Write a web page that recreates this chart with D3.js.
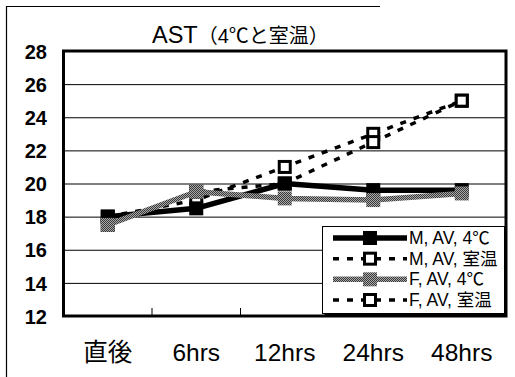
<!DOCTYPE html>
<html>
<head>
<meta charset="utf-8">
<script src="https://cdn.jsdelivr.net/npm/d3@7"></script>
<style>
  html, body { margin: 0; padding: 0; background: #fff; }
  svg { display: block; }
  text { font-family: "Liberation Sans", Arial, "Noto Sans CJK JP", sans-serif; fill: #000; }
</style>
</head>
<body>
<svg id="chart" width="515" height="377"></svg>
<script>
// Time points after collection
const categories = ["直後", "6hrs", "12hrs", "24hrs", "48hrs"];

// AST averages, male / female, stored at 4℃ or at room temperature
const mAv4C   = [18, 18.5, 20, 19.6, 19.6];
const mAvRoom = [18, 19, 21, 23, 25];
const fAv4C   = [17.5, 19.5, 19.1, 19, 19.4];
const fAvRoom = [17.5, 19.5, 20, 22.5, 25];

const seriesNames = ["M, AV, 4℃", "M, AV, 室温", "F, AV, 4℃", "F, AV, 室温"];
const yTicks = [12, 14, 16, 18, 20, 22, 24, 26, 28];
const titleMain = "AST";
const titleSub = "（4℃と室温）";

const svg = d3.select("#chart");

// halftone-like grey used for the female 4℃ series
const defs = svg.append("defs");
const pat = defs.append("pattern")
  .attr("id", "halftone").attr("patternUnits", "userSpaceOnUse")
  .attr("width", 2).attr("height", 2);
pat.append("rect").attr("width", 2).attr("height", 2).attr("fill", "#a8a8a8");
pat.append("rect").attr("width", 1).attr("height", 1).attr("fill", "#3a3a3a");
pat.append("rect").attr("x", 1).attr("y", 1).attr("width", 1).attr("height", 1).attr("fill", "#3a3a3a");

const plot = { left: 63.5, right: 506, top: 51, bottom: 316 };

const x = d3.scaleBand().domain(categories).range([plot.left, plot.right]).padding(0);
const cx = d => x(d) + x.bandwidth() / 2;
const y = d3.scaleLinear().domain([12, 28]).range([plot.bottom, plot.top]);

// outer frame (left and top edges)
svg.append("line").attr("x1", 6.5).attr("x2", 6.5).attr("y1", 6).attr("y2", 377)
  .attr("stroke", "#000").attr("stroke-width", 1.2);
svg.append("line").attr("x1", 6).attr("x2", 380).attr("y1", 6.5).attr("y2", 6.5)
  .attr("stroke", "#000").attr("stroke-width", 1.2);

// title
const title = svg.append("text").attr("x", 152).attr("y", 43);
title.append("tspan").attr("font-size", 23.5).text(titleMain);
title.append("tspan").attr("font-size", 20).text(titleSub);

// horizontal gridlines
const grid = d3.axisLeft(y).tickValues(yTicks).tickSize(-(plot.right - plot.left)).tickFormat("");
svg.append("g").attr("transform", `translate(${plot.left},0)`).call(grid)
  .call(g => g.select(".domain").remove())
  .call(g => g.selectAll("line").attr("stroke", "#000").attr("stroke-width", 1));

// y tick labels
const yAxis = d3.axisLeft(y).tickValues(yTicks).tickSize(0).tickPadding(0).tickFormat(d3.format("d"));
svg.append("g").attr("transform", "translate(47,0)").call(yAxis)
  .call(g => g.select(".domain").remove())
  .call(g => g.selectAll("text").attr("font-size", 20).attr("font-weight", "bold")
    .attr("font-family", "Liberation Sans, Arial, sans-serif").attr("dy", "0.36em"));

// category boundary ticks, pointing up from the bottom edge
svg.append("g").selectAll("line")
  .data(categories.slice(1))
  .join("line")
  .attr("x1", d => x(d)).attr("x2", d => x(d))
  .attr("y1", plot.bottom).attr("y2", plot.bottom - 8)
  .attr("stroke", "#000").attr("stroke-width", 1);

// x labels
const xAxis = d3.axisBottom(x).tickSize(0).tickPadding(0);
svg.append("g").attr("transform", `translate(0,${plot.bottom})`).call(xAxis)
  .call(g => g.select(".domain").remove())
  .call(g => g.selectAll("text").attr("font-size", 24.5).attr("dy", 0).attr("y", 45));

// plot frame
svg.append("rect")
  .attr("x", plot.left).attr("y", plot.top)
  .attr("width", plot.right - plot.left).attr("height", plot.bottom - plot.top)
  .attr("fill", "none").attr("stroke", "#000").attr("stroke-width", 3);

const series = [
  { name: seriesNames[1], values: mAvRoom, stroke: "#000", width: 3.5, dash: "6,8", mFill: "#fff", mStroke: "#000", mSw: 3 },
  { name: seriesNames[3], values: fAvRoom, stroke: "#000", width: 3.5, dash: "6,8", mFill: "#fff", mStroke: "#000", mSw: 3 },
  { name: seriesNames[0], values: mAv4C,   stroke: "#000", width: 5.5, dash: null, mFill: "#000", mStroke: "none", mSw: 0 },
  { name: seriesNames[2], values: fAv4C,   stroke: "url(#halftone)", width: 5.5, dash: null, mFill: "url(#halftone)", mStroke: "none", mSw: 0 }
];

const line = d3.line().x((d, i) => cx(categories[i])).y(d => y(d));
const mk = 14;

series.forEach(s => {
  const g = svg.append("g");
  g.append("path").datum(s.values)
    .attr("d", line).attr("fill", "none")
    .attr("stroke", s.stroke).attr("stroke-width", s.width)
    .attr("stroke-dasharray", s.dash);
  g.selectAll("rect").data(s.values).join("rect")
    .attr("x", (d, i) => cx(categories[i]) - mk / 2 + s.mSw / 2)
    .attr("y", d => y(d) - mk / 2 + s.mSw / 2)
    .attr("width", mk - s.mSw).attr("height", mk - s.mSw)
    .attr("fill", s.mFill).attr("stroke", s.mStroke).attr("stroke-width", s.mSw);
});

// legend
const legend = { x: 322.5, y: 226.5, w: 182, h: 87 };
svg.append("rect").attr("x", legend.x + 2).attr("y", legend.y + 2)
  .attr("width", legend.w).attr("height", legend.h).attr("fill", "#000");
svg.append("rect").attr("x", legend.x).attr("y", legend.y)
  .attr("width", legend.w).attr("height", legend.h)
  .attr("fill", "#fff").attr("stroke", "#000").attr("stroke-width", 1);

const legendOrder = [series[2], series[0], series[3], series[1]];
const rowY = d3.scalePoint().domain(d3.range(4)).range([238, 300]);
legendOrder.forEach((s, i) => {
  const ly = rowY(i);
  const g = svg.append("g");
  g.append("line").attr("x1", 333).attr("x2", 407).attr("y1", ly).attr("y2", ly)
    .attr("stroke", s.stroke).attr("stroke-width", s.width)
    .attr("stroke-dasharray", s.dash);
  g.append("rect")
    .attr("x", 370 - mk / 2 + s.mSw / 2).attr("y", ly - mk / 2 + s.mSw / 2)
    .attr("width", mk - s.mSw).attr("height", mk - s.mSw)
    .attr("fill", s.mFill).attr("stroke", s.mStroke).attr("stroke-width", s.mSw);
  g.append("text").attr("x", 409).attr("y", ly + 6).attr("font-size", 17.5).text(s.name);
});
</script>
</body>
</html>
